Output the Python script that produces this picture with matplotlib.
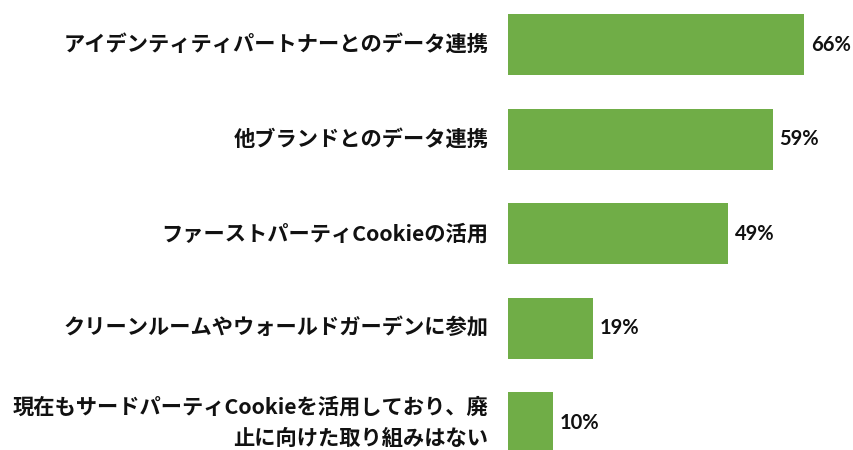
import matplotlib
matplotlib.use("Agg")
import matplotlib.pyplot as plt

categories = [
    "アイデンティティパートナーとのデータ連携",
    "他ブランドとのデータ連携",
    "ファーストパーティCookieの活用",
    "クリーンルームやウォールドガーデンに参加",
    "現在もサードパーティCookieを活用しており、廃\n止に向けた取り組みはない",
]
values = [66, 59, 49, 19, 10]
value_labels = ["66%", "59%", "49%", "19%", "10%"]

plt.rcParams['font.family'] = ['Noto Sans CJK JP', 'DejaVu Sans']

W, H = 854, 450
fig = plt.figure(figsize=(W / 100, H / 100), dpi=100)
left_px, right_px = 508, 508 + 75 * 4.485
top_px, bottom_px = 14, 453.5
ax = fig.add_axes([left_px / W, (H - bottom_px) / H, (right_px - left_px) / W, (bottom_px - top_px) / H])

bw = 0.645
ypos = list(range(len(categories)))
ax.barh(ypos, values, height=bw, color="#70AD47")
ax.set_xlim(0, 75)
ax.set_ylim(len(categories) - 1 + bw / 2, -bw / 2)

for y, v, lab in zip(ypos, values, value_labels):
    ax.annotate(lab, (v, y), xytext=(5, 0), textcoords="offset points",
                ha="left", va="center", fontsize=14.5, fontweight="bold",
                family=["Lato", "DejaVu Sans"], color="#111111")

for y, cat in zip(ypos, categories):
    ax.annotate(cat, (0, y), xytext=(-14, 0), textcoords="offset points",
                ha="right", va="center", fontsize=15.3, fontweight="bold",
                color="#111111", linespacing=1.6, multialignment="right")

ax.set_xticks([])
ax.set_yticks([])
for s in ax.spines.values():
    s.set_visible(False)

fig.savefig("out.png", dpi=100)
